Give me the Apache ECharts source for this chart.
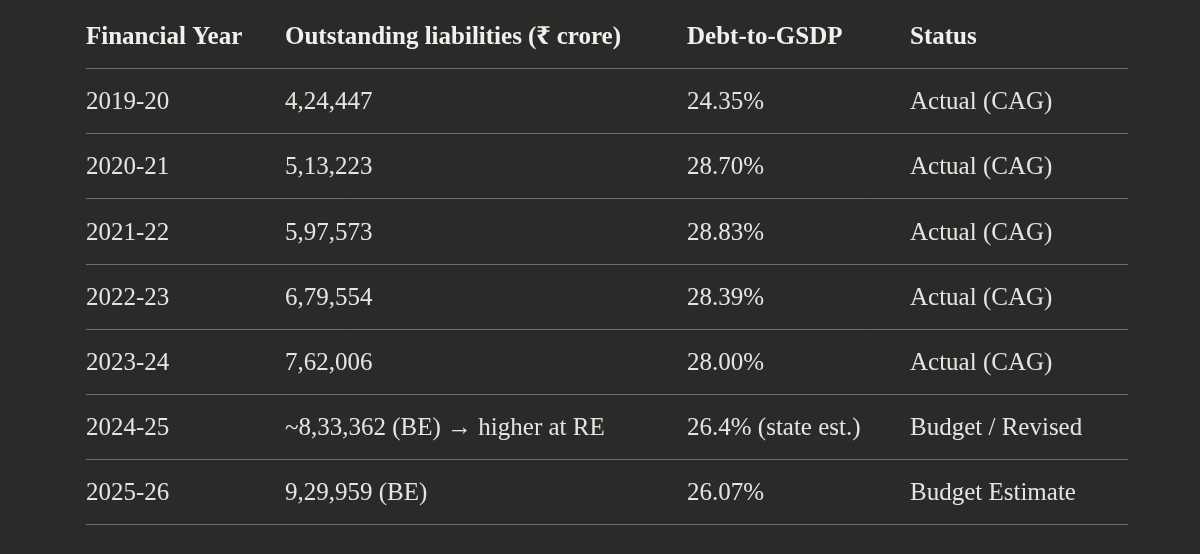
<!DOCTYPE html>
<html>
<head>
<meta charset="utf-8">
<script src="https://cdn.jsdelivr.net/npm/echarts@6/dist/echarts.min.js"></script>
<style>
  html, body { margin: 0; padding: 0; background: #2a2a28; }
  #chart { width: 1200px; height: 554px; }
</style>
</head>
<body>
<div id="chart"></div>
<script>
// table data
const headers = ['Financial Year', 'Outstanding liabilities (₹ crore)', 'Debt-to-GSDP', 'Status'];
const years = ['2019-20', '2020-21', '2021-22', '2022-23', '2023-24', '2024-25', '2025-26'];
const liabilities = ['4,24,447', '5,13,223', '5,97,573', '6,79,554', '7,62,006', '~8,33,362 (BE) → higher at RE', '9,29,959 (BE)'];
const debtToGsdp = ['24.35%', '28.70%', '28.83%', '28.39%', '28.00%', '26.4% (state est.)', '26.07%'];
const status = ['Actual (CAG)', 'Actual (CAG)', 'Actual (CAG)', 'Actual (CAG)', 'Actual (CAG)', 'Budget / Revised', 'Budget Estimate'];

// row 0 is the header
const rows = [headers].concat(years.map((y, i) => [y, liabilities[i], debtToGsdp[i], status[i]]));
const rowNames = rows.map((r, i) => 'r' + i);

// column left edges (px on a 0..1200 x axis)
const colX = [86, 285, 687, 910];
const lineStart = 86, lineEnd = 1128;

const chart = echarts.init(document.getElementById('chart'), null, { renderer: 'canvas' });

chart.setOption({
    backgroundColor: '#2a2a28',
    animation: false,
    grid: { left: 0, right: 0, top: 3, bottom: 30 },
    xAxis: { type: 'value', min: 0, max: 1200, show: false },
    yAxis: { type: 'category', data: rowNames, inverse: true, show: false },
    series: [{
        type: 'custom',
        data: rows.map((r, i) => [i]),
        renderItem: function (params, api) {
            const idx = api.value(0);
            const row = rows[idx];
            const center = api.coord([0, idx]);
            const bandH = api.size([0, 1])[1];
            const bottomY = Math.round(center[1] + bandH / 2) + 0.5;
            const isHead = idx === 0;
            const children = row.map((txt, c) => ({
                type: 'text',
                style: {
                    x: api.coord([colX[c], idx])[0],
                    y: center[1] + 2,
                    text: txt,
                    fill: isHead ? '#f0f0ee' : '#e4e4e2',
                    font: (isHead ? 'bold ' : '') + '25px "Liberation Serif", "Noto Serif", serif',
                    textAlign: 'left',
                    textVerticalAlign: 'middle'
                }
            }));
            children.push({
                type: 'line',
                shape: {
                    x1: api.coord([lineStart, idx])[0], y1: bottomY,
                    x2: api.coord([lineEnd, idx])[0], y2: bottomY
                },
                style: { stroke: '#6e6e6c', lineWidth: 1 }
            });
            return { type: 'group', children: children };
        }
    }]
});
</script>
</body>
</html>
